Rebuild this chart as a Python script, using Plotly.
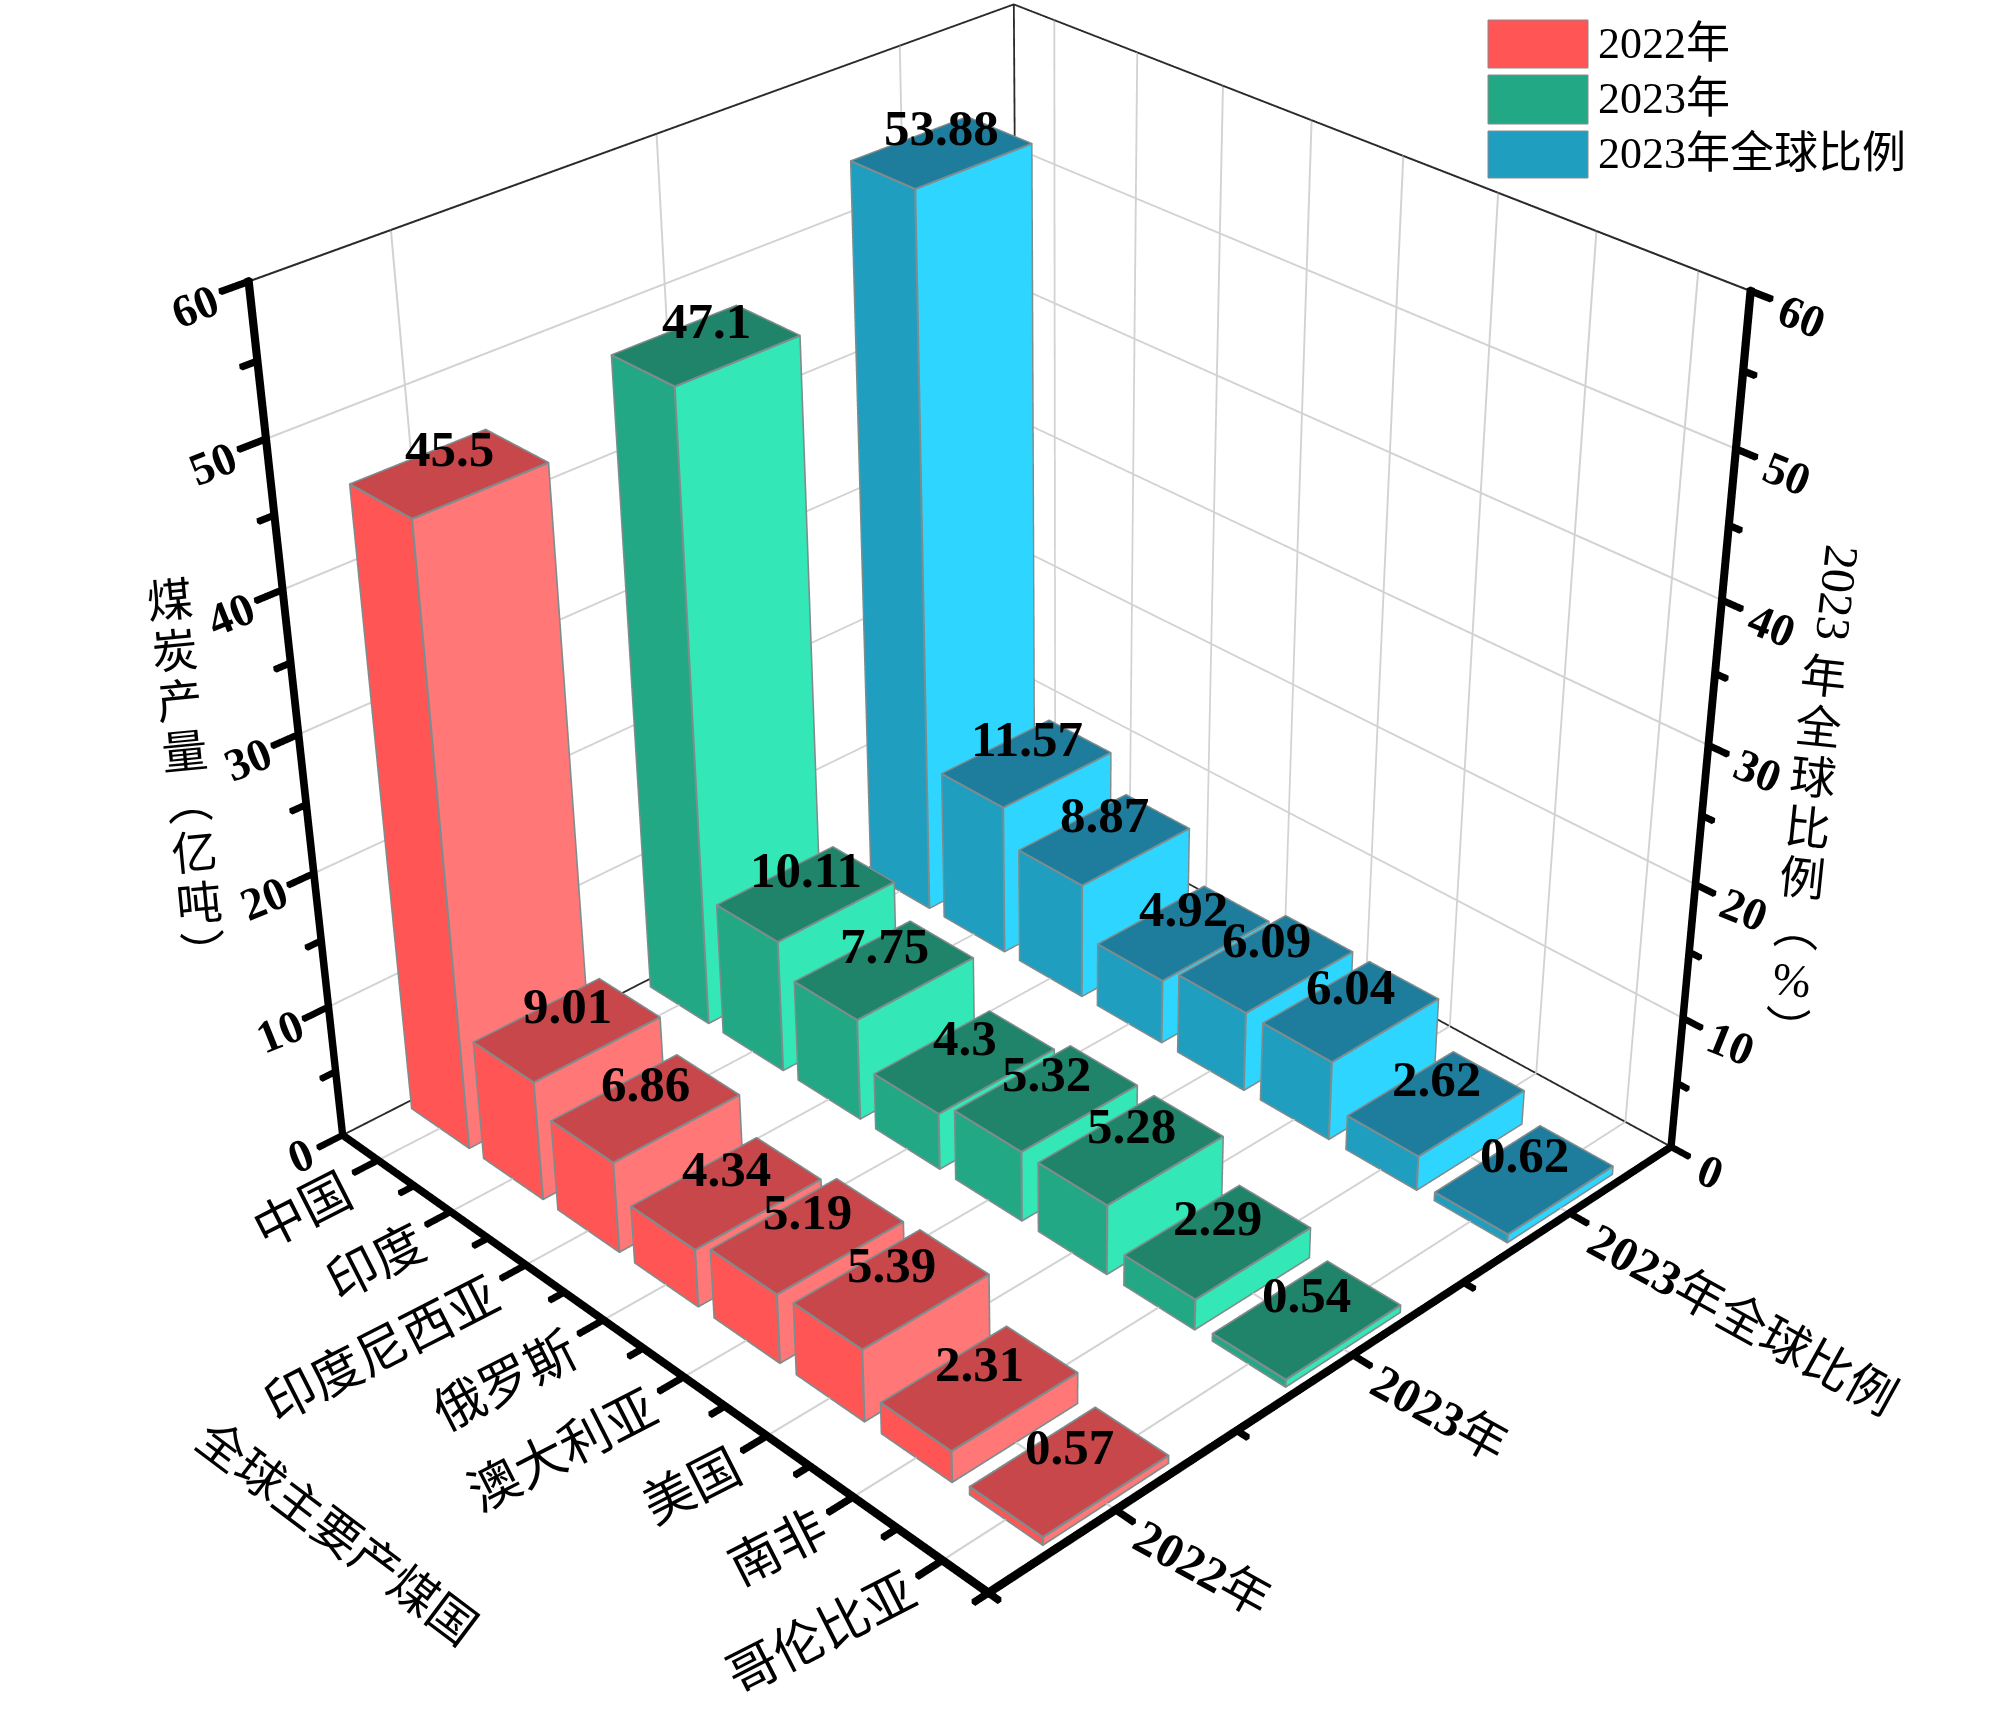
import numpy as np
import plotly.graph_objects as go

countries = ["中国", "印度", "印度尼西亚", "俄罗斯", "澳大利亚", "美国", "南非", "哥伦比亚"]
series = ["2022年", "2023年", "2023年全球比例"]
v2022 = [45.5, 9.01, 6.86, 4.34, 5.19, 5.39, 2.31, 0.57]
v2023 = [47.1, 10.11, 7.75, 4.3, 5.32, 5.28, 2.29, 0.54]
vshare = [53.88, 11.57, 8.87, 4.92, 6.09, 6.04, 2.62, 0.62]
ztick_major = [0, 10, 20, 30, 40, 50, 60]
ztick_minor = [5, 15, 25, 35, 45, 55]
values = [v2022, v2023, vshare]
top_c = ["#C8474B", "#1F8469", "#1E7D9C"]
left_c = ["#FF5555", "#22A884", "#209EC0"]
right_c = ["#FF7777", "#33E8B6", "#2ED6FF"]

W, H = 2000, 1732
XR = (-0.12, 3.03); YR = (-0.3, 8.06); ZR = (-0.5, 60.5)
EYE = (-1.8453, -1.9581, 1.6307)
CENTER = (-0.0027, -0.0665, -0.0665)
ASPECT = (0.7534, 0.7523, 0.7282)
FOV = 0.3903
dom_x = [0.0635, 1.0]

FONT = "Liberation Serif, Noto Sans CJK SC"
fig = go.Figure()
PXS = np.array([240.0, 90.0, 11.5])   # pixels per data unit, used only to size line thickness

class Rods:
    """Collects axis-aligned thin boxes, drawn as one Mesh3d (WebGL lines are 1 px wide here)."""
    def __init__(self): self.x, self.y, self.z, self.i, self.j, self.k = [], [], [], [], [], []
    def add(self, a, b, w):
        h = w/2/PXS
        a = np.array(a, float); b = np.array(b, float)
        lo = np.minimum(a, b)-h; hi = np.maximum(a, b)+h
        n = len(self.x)
        for zz in (lo[2], hi[2]):
            for xx, yy in ((lo[0], lo[1]), (hi[0], lo[1]), (hi[0], hi[1]), (lo[0], hi[1])):
                self.x.append(float(xx)); self.y.append(float(yy)); self.z.append(float(zz))
        for q in ((0,1,2,3),(4,5,6,7),(0,1,5,4),(1,2,6,5),(2,3,7,6),(3,0,4,7)):
            self.i += [n+q[0], n+q[0]]; self.j += [n+q[1], n+q[2]]; self.k += [n+q[2], n+q[3]]
    def draw(self, color):
        fig.add_trace(go.Mesh3d(x=self.x, y=self.y, z=self.z, i=self.i, j=self.j, k=self.k, color=color,
                                flatshading=True, lighting=dict(ambient=1, diffuse=0, specular=0, fresnel=0, roughness=1),
                                hoverinfo="skip", showlegend=False))

xc = [i+.5 for i in range(len(series))]
yc = [len(countries)-.5-i for i in range(len(countries))]
X0, X1, Y0, Y1, Z0, Z1 = 0, 3, 0, 8, 0, 60
G = Rods()
GW = 1.0
for x in xc:
    G.add((x,Y0,Z0),(x,Y1,Z0),GW); G.add((x,Y1,Z0),(x,Y1,Z1),GW)
for y in yc:
    G.add((X0,y,Z0),(X1,y,Z0),GW); G.add((X1,y,Z0),(X1,y,Z1),GW)
for z in ztick_major[1:]:
    G.add((X0,Y1,z),(X1,Y1,z),GW); G.add((X1,Y1,z),(X1,Y0,z),GW)
G.draw("#D2D2D2")
T = Rods()
for a, b in [((X0,Y1,Z0),(X1,Y1,Z0)), ((X1,Y1,Z0),(X1,Y0,Z0)), ((X0,Y1,Z1),(X1,Y1,Z1)),
             ((X1,Y1,Z1),(X1,Y0,Z1)), ((X1,Y1,Z0),(X1,Y1,Z1))]:
    T.add(a, b, 1.0)
T.draw("#2A2A2A")

BW_X, BW_Y = 0.505, 0.80
for s, vals in enumerate(values):
    xs, ys, zs, ii, jj, kk, fc = [], [], [], [], [], [], []
    E = Rods()
    for c, v in enumerate(vals):
        a0, a1 = xc[s]-BW_X/2, xc[s]+BW_X/2
        b0, b1 = yc[c]-BW_Y/2, yc[c]+BW_Y/2
        n = len(xs)
        xs += [a0,a1,a1,a0,a0,a1,a1,a0]; ys += [b0,b0,b1,b1,b0,b0,b1,b1]; zs += [0,0,0,0,v,v,v,v]
        faces = [((0,3,7,4), left_c[s]), ((0,1,5,4), right_c[s]), ((4,5,6,7), top_c[s]),
                 ((1,2,6,5), right_c[s]), ((3,2,6,7), left_c[s])]
        for q, col in faces:
            ii += [n+q[0], n+q[0]]; jj += [n+q[1], n+q[2]]; kk += [n+q[2], n+q[3]]; fc += [col, col]
        for A_, B_ in [((a0,b0,0),(a0,b0,v)),((a0,b1,0),(a0,b1,v)),((a1,b0,0),(a1,b0,v)),
                     ((a0,b0,v),(a1,b0,v)),((a0,b0,v),(a0,b1,v)),((a1,b0,v),(a1,b1,v)),((a0,b1,v),(a1,b1,v)),
                     ((a0,b0,0),(a1,b0,0)),((a0,b0,0),(a0,b1,0))]:
            E.add(A_, B_, 1.1)
    fig.add_trace(go.Mesh3d(x=xs, y=ys, z=zs, i=ii, j=jj, k=kk, facecolor=fc, flatshading=True, name=series[s],
                            lighting=dict(ambient=1, diffuse=0, specular=0, fresnel=0, roughness=1),
                            hoverinfo="skip", showlegend=False))
    E.draw("#7F8C8D")

A = Rods()
AW, TW = 4.0, 3.5
for a, b in [((X0,Y0,Z0),(X0,Y1,Z0)), ((X0,Y0,Z0),(X1,Y0,Z0)), ((X0,Y1,Z0),(X0,Y1,Z1)), ((X1,Y0,Z0),(X1,Y0,Z1))]:
    A.add(a, b, AW)
for z in ztick_major:
    A.add((X0,Y1,z),(X0-.09,Y1,z),TW); A.add((X1,Y0,z),(X1,Y0-.18,z),TW)
for z in ztick_minor:
    A.add((X0,Y1,z),(X0-.05,Y1,z),TW); A.add((X1,Y0,z),(X1,Y0-.10,z),TW)
for y in yc:
    A.add((X0,y,Z0),(X0-.09,y,Z0),TW)
for y in range(0, 8):
    A.add((X0,y,Z0),(X0-.05,y,Z0),TW)
for x in xc:
    A.add((x,Y0,Z0),(x,Y0-.18,Z0),TW)
for x in range(0, 3):
    A.add((x,Y0,Z0),(x,Y0-.10,Z0),TW)
A.draw("#000000")

ann = []
for s, vals in enumerate(values):
    for c, v in enumerate(vals):
        ann.append(dict(x=xc[s], y=yc[c], z=v, text=f"<b>{v}</b>", showarrow=False, yshift=24,
                        font=dict(family=FONT, size=51, color="black")))
for z in ztick_major:
    lx, ly = (-42, -20) if z == 0 else (-48-.1*z, -25)
    rx, ry = (39, -25) if z == 0 else (47+.08*z, -25)
    ann.append(dict(x=X0, y=Y1, z=z, text=f"<b>{z}</b>", showarrow=False, xshift=lx, yshift=ly, textangle=-22,
                    font=dict(family=FONT, size=46, color="black")))
    ann.append(dict(x=X1, y=Y0, z=z, text=f"<b>{z}</b>", showarrow=False, xshift=rx, yshift=ry, textangle=22,
                    font=dict(family=FONT, size=46, color="black")))
for c, y in enumerate(yc):
    ann.append(dict(x=X0, y=y, z=Z0, text=countries[c], showarrow=False, textangle=-27, xanchor="right", yanchor="top",
                    xshift=-14, yshift=0, font=dict(family=FONT, size=51, color="black")))
for s, x in enumerate(xc):
    txt = series[s].replace("2022", "<b>2022</b>").replace("2023", "<b>2023</b>")
    ann.append(dict(x=x, y=Y0, z=Z0, text=txt, showarrow=False, textangle=29, xanchor="left", yanchor="top",
                    xshift=7, yshift=4, font=dict(family=FONT, size=49, color="black")))

pa = []
def paper(px, py, text, angle=0, size=44, xanchor="center"):
    pa.append(dict(xref="paper", yref="paper", x=px/W, y=1-py/H, text=text, textangle=angle, showarrow=False,
                   xanchor=xanchor, yanchor="middle", font=dict(family=FONT, size=size, color="black")))
def stack(chars, size=46):
    return "<br>".join(f'<span style="font-size:{size}px">{ch}</span>' for ch in chars)
paper(187, 778, stack("煤炭产量︵亿吨︶"), -5.5, 39)
paper(1838, 593, "2023", 96.5, 48)
paper(1805, 854, stack("年全球比例︵%︶"), 6, 39)
paper(337, 1533, "全球主要产煤国", 37, 48)
shapes = []
leg_y = [(20, 68), (75, 124), (131, 178)]
for s in range(3):
    shapes.append(dict(type="rect", xref="paper", yref="paper", x0=1488/W, x1=1588/W, y0=1-leg_y[s][1]/H, y1=1-leg_y[s][0]/H,
                       fillcolor=left_c[s], line=dict(color="#8A8A8A", width=1)))
    paper(1596, sum(leg_y[s])/2-1, series[s], 0, 44, "left")

ax = dict(visible=False, showspikes=False)
fig.update_layout(width=W, height=H, margin=dict(l=0, r=0, t=0, b=0), paper_bgcolor="white", showlegend=False,
                  shapes=shapes, annotations=pa,
                  scene=dict(domain=dict(x=dom_x, y=[0, 1]),
                             xaxis=dict(range=list(XR), **ax), yaxis=dict(range=list(YR), **ax), zaxis=dict(range=list(ZR), **ax),
                             aspectmode="manual", aspectratio=dict(x=ASPECT[0], y=ASPECT[1], z=ASPECT[2]),
                             camera=dict(eye=dict(x=EYE[0], y=EYE[1], z=EYE[2]),
                                         center=dict(x=CENTER[0], y=CENTER[1], z=CENTER[2]),
                                         up=dict(x=0, y=0, z=1)),
                             annotations=ann))
post = ("document.body.style.margin='0';var gd=document.getElementById('{plot_id}');"
        f"var g=gd._fullLayout.scene._scene.glplot;g.fovy={FOV};g.redraw();")
fig.write_html("out.html", post_script=post, config=dict(displayModeBar=False))
